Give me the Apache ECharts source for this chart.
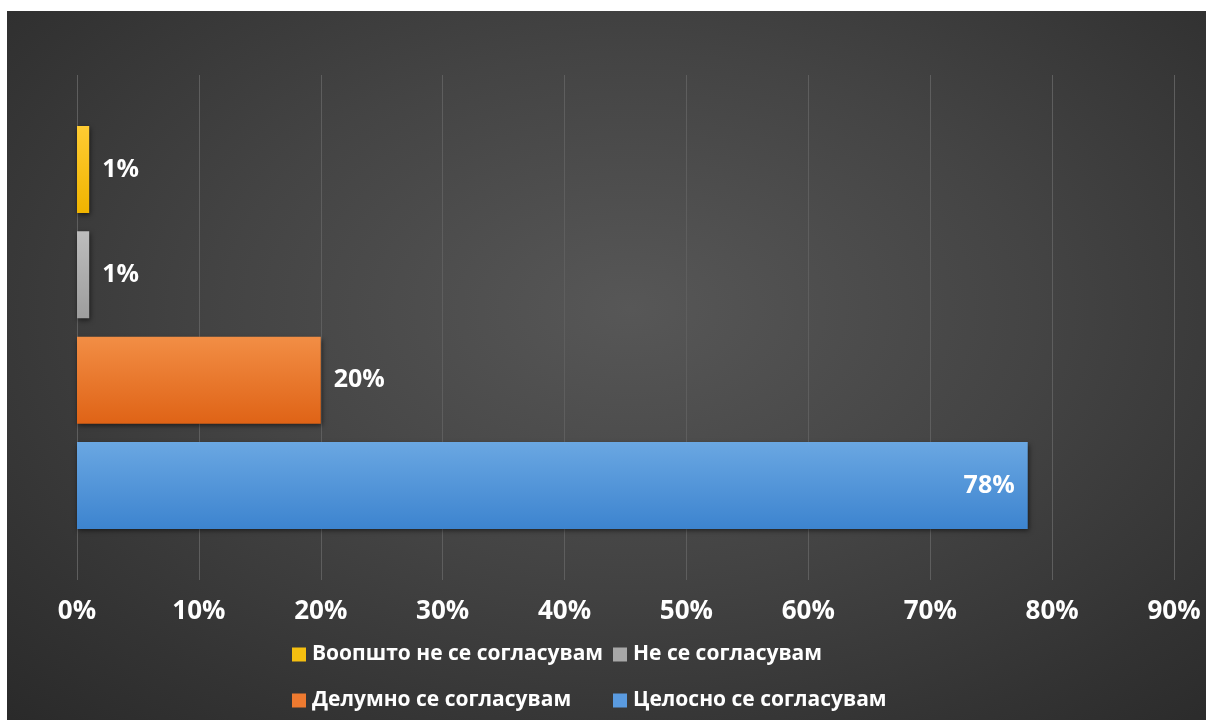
<!DOCTYPE html>
<html>
<head>
<meta charset="utf-8">
<script src="https://cdn.jsdelivr.net/npm/echarts@6/dist/echarts.min.js"></script>
<style>
  html, body { margin: 0; padding: 0; background: #ffffff; }
  #chart {
    position: absolute; left: 7px; top: 11px; width: 1199px; height: 709px;
    background: radial-gradient(ellipse 75% 80% at 52% 42%, #575757 0%, #444444 45%, #333333 80%, #2a2a2a 100%);
  }
</style>
</head>
<body>
<div id="chart"></div>
<script>
// Survey answers (share of respondents, %), listed top to bottom
const seriesNames = ['Воопшто не се согласувам', 'Не се согласувам', 'Делумно се согласувам', 'Целосно се согласувам'];
const seriesValues = [1, 1, 20, 78];
const categories = [''];
const tickMax = 90;
const tickStep = 10;

const palette = [
  ['#ffcc33', '#f0b400'],
  ['#bdbdbd', '#9d9d9d'],
  ['#f28e45', '#df6316'],
  ['#6aa7e2', '#3d84cf']
];
const legendColors = ['#f5bf10', '#a8a8a8', '#ee7a30', '#5a9be0'];

const font = '"Open Sans", "Noto Sans", sans-serif';

const chart = echarts.init(document.getElementById('chart'), null, { renderer: 'canvas' });

const series = seriesNames.map((name, i) => ({
  name: name,
  type: 'bar',
  data: [seriesValues[i]],
  barWidth: 87,
  barGap: '21%',
  itemStyle: {
    color: new echarts.graphic.LinearGradient(0, 0, 0, 1, [
      { offset: 0, color: palette[i][0] },
      { offset: 1, color: palette[i][1] }
    ]),
    shadowBlur: 5,
    shadowOffsetX: 1,
    shadowOffsetY: 2,
    shadowColor: 'rgba(0,0,0,0.55)'
  },
  label: {
    show: true,
    position: seriesValues[i] > 50 ? 'insideRight' : 'right',
    distance: 13,
    formatter: '{c}%',
    color: '#ffffff',
    fontFamily: font,
    fontWeight: 'bold',
    fontSize: 25
  }
}));

// One legend block per entry so the two rows line up in columns
const legendItem = (idx, left, top) => ({
  data: [{ name: seriesNames[idx], itemStyle: { color: legendColors[idx], shadowBlur: 0, shadowOffsetX: 0, shadowOffsetY: 0, shadowColor: 'transparent' } }],
  left: left,
  top: top,
  itemWidth: 14,
  itemHeight: 14,
  itemGap: 0,
  icon: 'rect',
  textStyle: { color: '#ffffff', fontFamily: font, fontWeight: 'bold', fontSize: 21, padding: [0, 0, 0, 1] },
  selectedMode: false
});

chart.setOption({
  animation: false,
  grid: { left: 70, right: 32, top: 64, bottom: 140 },
  legend: [
    legendItem(0, 280, 628),
    legendItem(1, 601, 628),
    legendItem(2, 280, 674),
    legendItem(3, 601, 674)
  ],
  xAxis: {
    type: 'value',
    min: 0,
    max: tickMax,
    interval: tickStep,
    axisLine: { show: false },
    axisTick: { show: false },
    splitLine: { show: true, lineStyle: { color: '#5e5e5e', width: 1 } },
    axisLabel: {
      formatter: '{value}%',
      color: '#ffffff',
      fontFamily: font,
      fontWeight: 'bold',
      fontSize: 26,
      margin: 19
    }
  },
  yAxis: {
    type: 'category',
    data: categories,
    axisLine: { show: false },
    axisTick: { show: false },
    axisLabel: { show: false }
  },
  series: series
});
</script>
</body>
</html>
